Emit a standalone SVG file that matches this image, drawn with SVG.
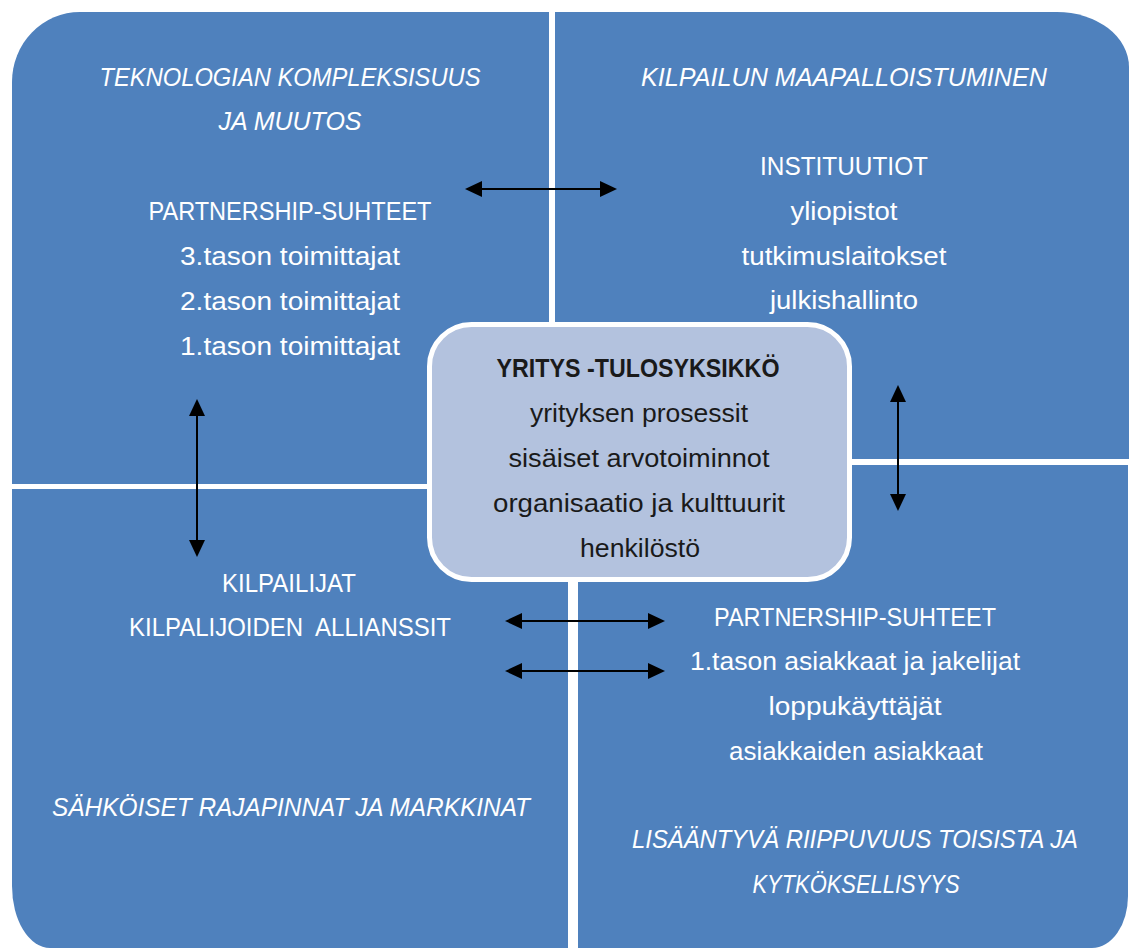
<svg xmlns="http://www.w3.org/2000/svg" width="1129" height="949" viewBox="0 0 1129 949">
<style>
.q{fill:#4F81BD;}
.c{fill:#B3C2DE;stroke:#FFFFFF;stroke-width:5;}
text{font-family:"Liberation Sans",Arial,sans-serif;font-size:26px;text-anchor:middle;}
.w{fill:#FFFFFF;}
.i{font-style:italic;}
.d{fill:#1A1A1A;}
.b{font-weight:bold;}
.a{stroke:#000000;stroke-width:2;fill:none;marker-start:url(#ah);marker-end:url(#ah);}
</style>
<defs>
<marker id="ah" markerUnits="userSpaceOnUse" markerWidth="17" markerHeight="16" viewBox="0 0 17 16" refX="14" refY="8" orient="auto-start-reverse">
<path d="M0,0 L17,8 L0,16 Z" fill="#000000"/>
</marker>
</defs>
<rect x="0" y="0" width="1129" height="949" fill="#FFFFFF"/>
<g id="q-top-left">
<path class="q" d="M12,82 A68,70 0 0 1 80,12 L549,12 L549,484 L12,484 Z"/>
<text class="w i" x="290" y="86" textLength="381" lengthAdjust="spacingAndGlyphs">TEKNOLOGIAN KOMPLEKSISUUS</text>
<text class="w i" x="290" y="130" textLength="143" lengthAdjust="spacingAndGlyphs">JA MUUTOS</text>
<text class="w" x="290" y="220" textLength="283" lengthAdjust="spacingAndGlyphs">PARTNERSHIP-SUHTEET</text>
<text class="w" x="290" y="265" textLength="220" lengthAdjust="spacingAndGlyphs">3.tason toimittajat</text>
<text class="w" x="290" y="310" textLength="220" lengthAdjust="spacingAndGlyphs">2.tason toimittajat</text>
<text class="w" x="290" y="355" textLength="220" lengthAdjust="spacingAndGlyphs">1.tason toimittajat</text>
</g>
<g id="q-top-right">
<path class="q" d="M555,12 L1057,12 A72,55 0 0 1 1129,67 L1129,459 L555,459 Z"/>
<text class="w i" x="844" y="86" textLength="406" lengthAdjust="spacingAndGlyphs">KILPAILUN MAAPALLOISTUMINEN</text>
<text class="w" x="844" y="175" textLength="168" lengthAdjust="spacingAndGlyphs">INSTITUUTIOT</text>
<text class="w" x="844" y="220" textLength="107" lengthAdjust="spacingAndGlyphs">yliopistot</text>
<text class="w" x="844" y="265" textLength="205" lengthAdjust="spacingAndGlyphs">tutkimuslaitokset</text>
<text class="w" x="844" y="309" textLength="148" lengthAdjust="spacingAndGlyphs">julkishallinto</text>
</g>
<g id="q-bottom-left">
<path class="q" d="M12,489 L568,489 L568,948 L50,948 A38,62 0 0 1 12,886 Z"/>
<text class="w" x="289" y="592" textLength="134" lengthAdjust="spacingAndGlyphs">KILPAILIJAT</text>
<text class="w" x="290" y="636" textLength="322" lengthAdjust="spacingAndGlyphs" xml:space="preserve">KILPALIJOIDEN  ALLIANSSIT</text>
<text class="w i" x="291" y="816" textLength="478" lengthAdjust="spacingAndGlyphs">SÄHKÖISET RAJAPINNAT JA MARKKINAT</text>
</g>
<g id="q-bottom-right">
<path class="q" d="M578,465 L1128,465 L1128,896 A36,52 0 0 1 1092,948 L578,948 Z"/>
<text class="w" x="855" y="626" textLength="282" lengthAdjust="spacingAndGlyphs">PARTNERSHIP-SUHTEET</text>
<text class="w" x="855" y="670" textLength="330" lengthAdjust="spacingAndGlyphs">1.tason asiakkaat ja jakelijat</text>
<text class="w" x="855" y="715" textLength="173" lengthAdjust="spacingAndGlyphs">loppukäyttäjät</text>
<text class="w" x="856" y="760" textLength="254" lengthAdjust="spacingAndGlyphs">asiakkaiden asiakkaat</text>
<text class="w i" x="855" y="848" textLength="446" lengthAdjust="spacingAndGlyphs">LISÄÄNTYVÄ RIIPPUVUUS TOISISTA JA</text>
<text class="w i" x="856" y="893" textLength="207" lengthAdjust="spacingAndGlyphs">KYTKÖKSELLISYYS</text>
</g>
<g id="center">
<rect class="c" x="429.5" y="324.5" width="420" height="255" rx="42" ry="42"/>
<text class="d b" x="638" y="377" textLength="283" lengthAdjust="spacingAndGlyphs">YRITYS -TULOSYKSIKKÖ</text>
<text class="d" x="639" y="422" textLength="218" lengthAdjust="spacingAndGlyphs">yrityksen prosessit</text>
<text class="d" x="639" y="467" textLength="261" lengthAdjust="spacingAndGlyphs">sisäiset arvotoiminnot</text>
<text class="d" x="639" y="512" textLength="292" lengthAdjust="spacingAndGlyphs">organisaatio ja kulttuurit</text>
<text class="d" x="640" y="557" textLength="120" lengthAdjust="spacingAndGlyphs">henkilöstö</text>
</g>
<g id="connectors">
<line class="a" x1="468" y1="189" x2="614" y2="189"/>
<line class="a" x1="197" y1="402" x2="197" y2="554"/>
<line class="a" x1="898" y1="388" x2="898" y2="508"/>
<line class="a" x1="508" y1="621" x2="662" y2="621"/>
<line class="a" x1="508" y1="671" x2="662" y2="671"/>
</g>
</svg>
